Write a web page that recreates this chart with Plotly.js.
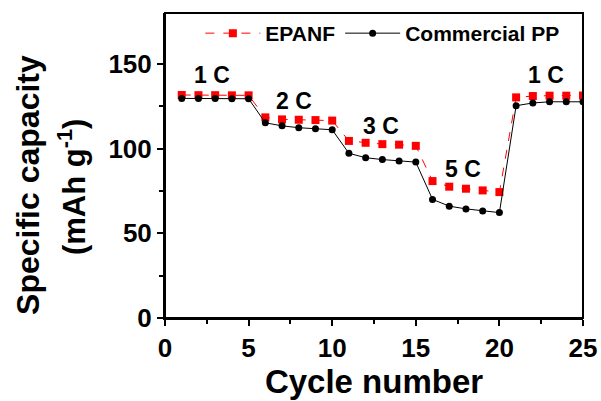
<!DOCTYPE html>
<html>
<head>
<meta charset="utf-8">
<script src="https://cdn.plot.ly/plotly-3.0.1.min.js"></script>
<style>
  html, body { margin: 0; padding: 0; background: #fff; }
  #chart { width: 601px; height: 401px; }
</style>
</head>
<body>
<div id="chart"></div>
<script>
// Rate capability: discharge capacity per cycle at 1C, 2C, 3C, 5C and back to 1C
const cycles = [1,2,3,4,5,6,7,8,9,10,11,12,13,14,15,16,17,18,19,20,21,22,23,24,25];
const epanf = [131.6,131.5,131.5,131.4,131.4, 118.4,117.2,117.0,116.8,116.5,
               104.5,103.4,102.6,102.3,101.6, 80.8,77.5,76.3,75.3,74.3,
               130.2,131.0,131.2,131.2,131.3];
const commercialPP = [129.6,129.5,129.5,129.4,129.4, 115.2,113.4,112.3,111.7,111.1,
                      97.2,94.6,93.5,92.6,92.0, 70.0,66.0,64.4,63.1,62.2,
                      125.3,126.9,127.6,127.6,127.6];
const rateLabels = ["1 C","2 C","3 C","5 C","1 C"];
const rateLabelX = [2.8, 7.7, 12.9, 17.8, 22.8];
const rateLabelY = [143.5, 128.2, 113.2, 87.7, 143.5];
const xTicks = [0, 5, 10, 15, 20, 25];
const yTicks = [0, 50, 100, 150];

const font = "Liberation Sans, Arial, sans-serif";

const traces = [
  {
    x: cycles, y: epanf, name: "<b>EPANF</b>", type: "scatter", mode: "lines+markers",
    line: { color: "#ff0000", width: 1, dash: "dash" },
    marker: { symbol: "square", size: 8, color: "#ff0000" }
  },
  {
    x: cycles, y: commercialPP, name: "<b>Commercial PP</b>", type: "scatter", mode: "lines+markers",
    line: { color: "#000000", width: 1 },
    marker: { symbol: "circle", size: 7, color: "#000000" }
  }
];

const annotations = rateLabels.map((t, i) => ({
  x: rateLabelX[i], y: rateLabelY[i], xref: "x", yref: "y",
  text: "<b>" + t + "</b>", showarrow: false,
  font: { family: font, size: 23, color: "#000" }
}));

// two-line y-axis title
annotations.push({
  xref: "paper", yref: "paper", x: -0.328, y: 0.436, xanchor: "center", yanchor: "middle",
  textangle: -90, text: "<b>Specific capacity</b>", showarrow: false,
  font: { family: font, size: 32, color: "#000" }
});
annotations.push({
  xref: "paper", yref: "paper", x: -0.222, y: 0.43, xanchor: "center", yanchor: "middle",
  textangle: -90, text: "<b>(mAh g<sup>-1</sup>)</b>", showarrow: false,
  font: { family: font, size: 31, color: "#000" }
});

const layout = {
  width: 601, height: 401,
  margin: { l: 165, r: 18, t: 13, b: 83 },
  paper_bgcolor: "#fff", plot_bgcolor: "#fff",
  showlegend: true,
  legend: {
    orientation: "h", x: 0.52, xanchor: "center", y: 1.0, yanchor: "top",
    font: { family: font, size: 21, color: "#000" },
    bgcolor: "rgba(0,0,0,0)", itemwidth: 55, tracegroupgap: 0
  },
  xaxis: {
    range: [0, 25], tickmode: "array", tickvals: xTicks, ticktext: xTicks.map(v => "<b>" + v + "</b>"),
    ticks: "outside", ticklen: 6, tickwidth: 2, tickcolor: "#000",
    minor: { tickvals: [2.5,7.5,12.5,17.5,22.5], ticks: "outside", ticklen: 4, tickwidth: 2, tickcolor: "#000" },
    showline: true, linewidth: 2, linecolor: "#000",
    showgrid: false, zeroline: false,
    tickfont: { family: font, size: 26, color: "#000" },
    title: { text: "<b>Cycle number</b>", font: { family: font, size: 33, color: "#000" }, standoff: 6 }
  },
  yaxis: {
    range: [0, 180], tickmode: "array", tickvals: yTicks, ticktext: yTicks.map(v => "<b>" + v + "</b>"),
    ticks: "outside", ticklen: 6, tickwidth: 2, tickcolor: "#000",
    minor: { tickvals: [25,75,125], ticks: "outside", ticklen: 4, tickwidth: 2, tickcolor: "#000" },
    showline: true, linewidth: 2, linecolor: "#000",
    showgrid: false, zeroline: false,
    tickfont: { family: font, size: 26, color: "#000" }
  },
  // plot frame (top and right edges without ticks)
  shapes: [{
    type: "rect", xref: "paper", yref: "paper", x0: 0, x1: 1, y0: 0, y1: 1,
    line: { color: "#000", width: 2 }, fillcolor: "rgba(0,0,0,0)"
  }],
  annotations: annotations
};

Plotly.newPlot("chart", traces, layout, { staticPlot: true, displayModeBar: false });
</script>
</body>
</html>
